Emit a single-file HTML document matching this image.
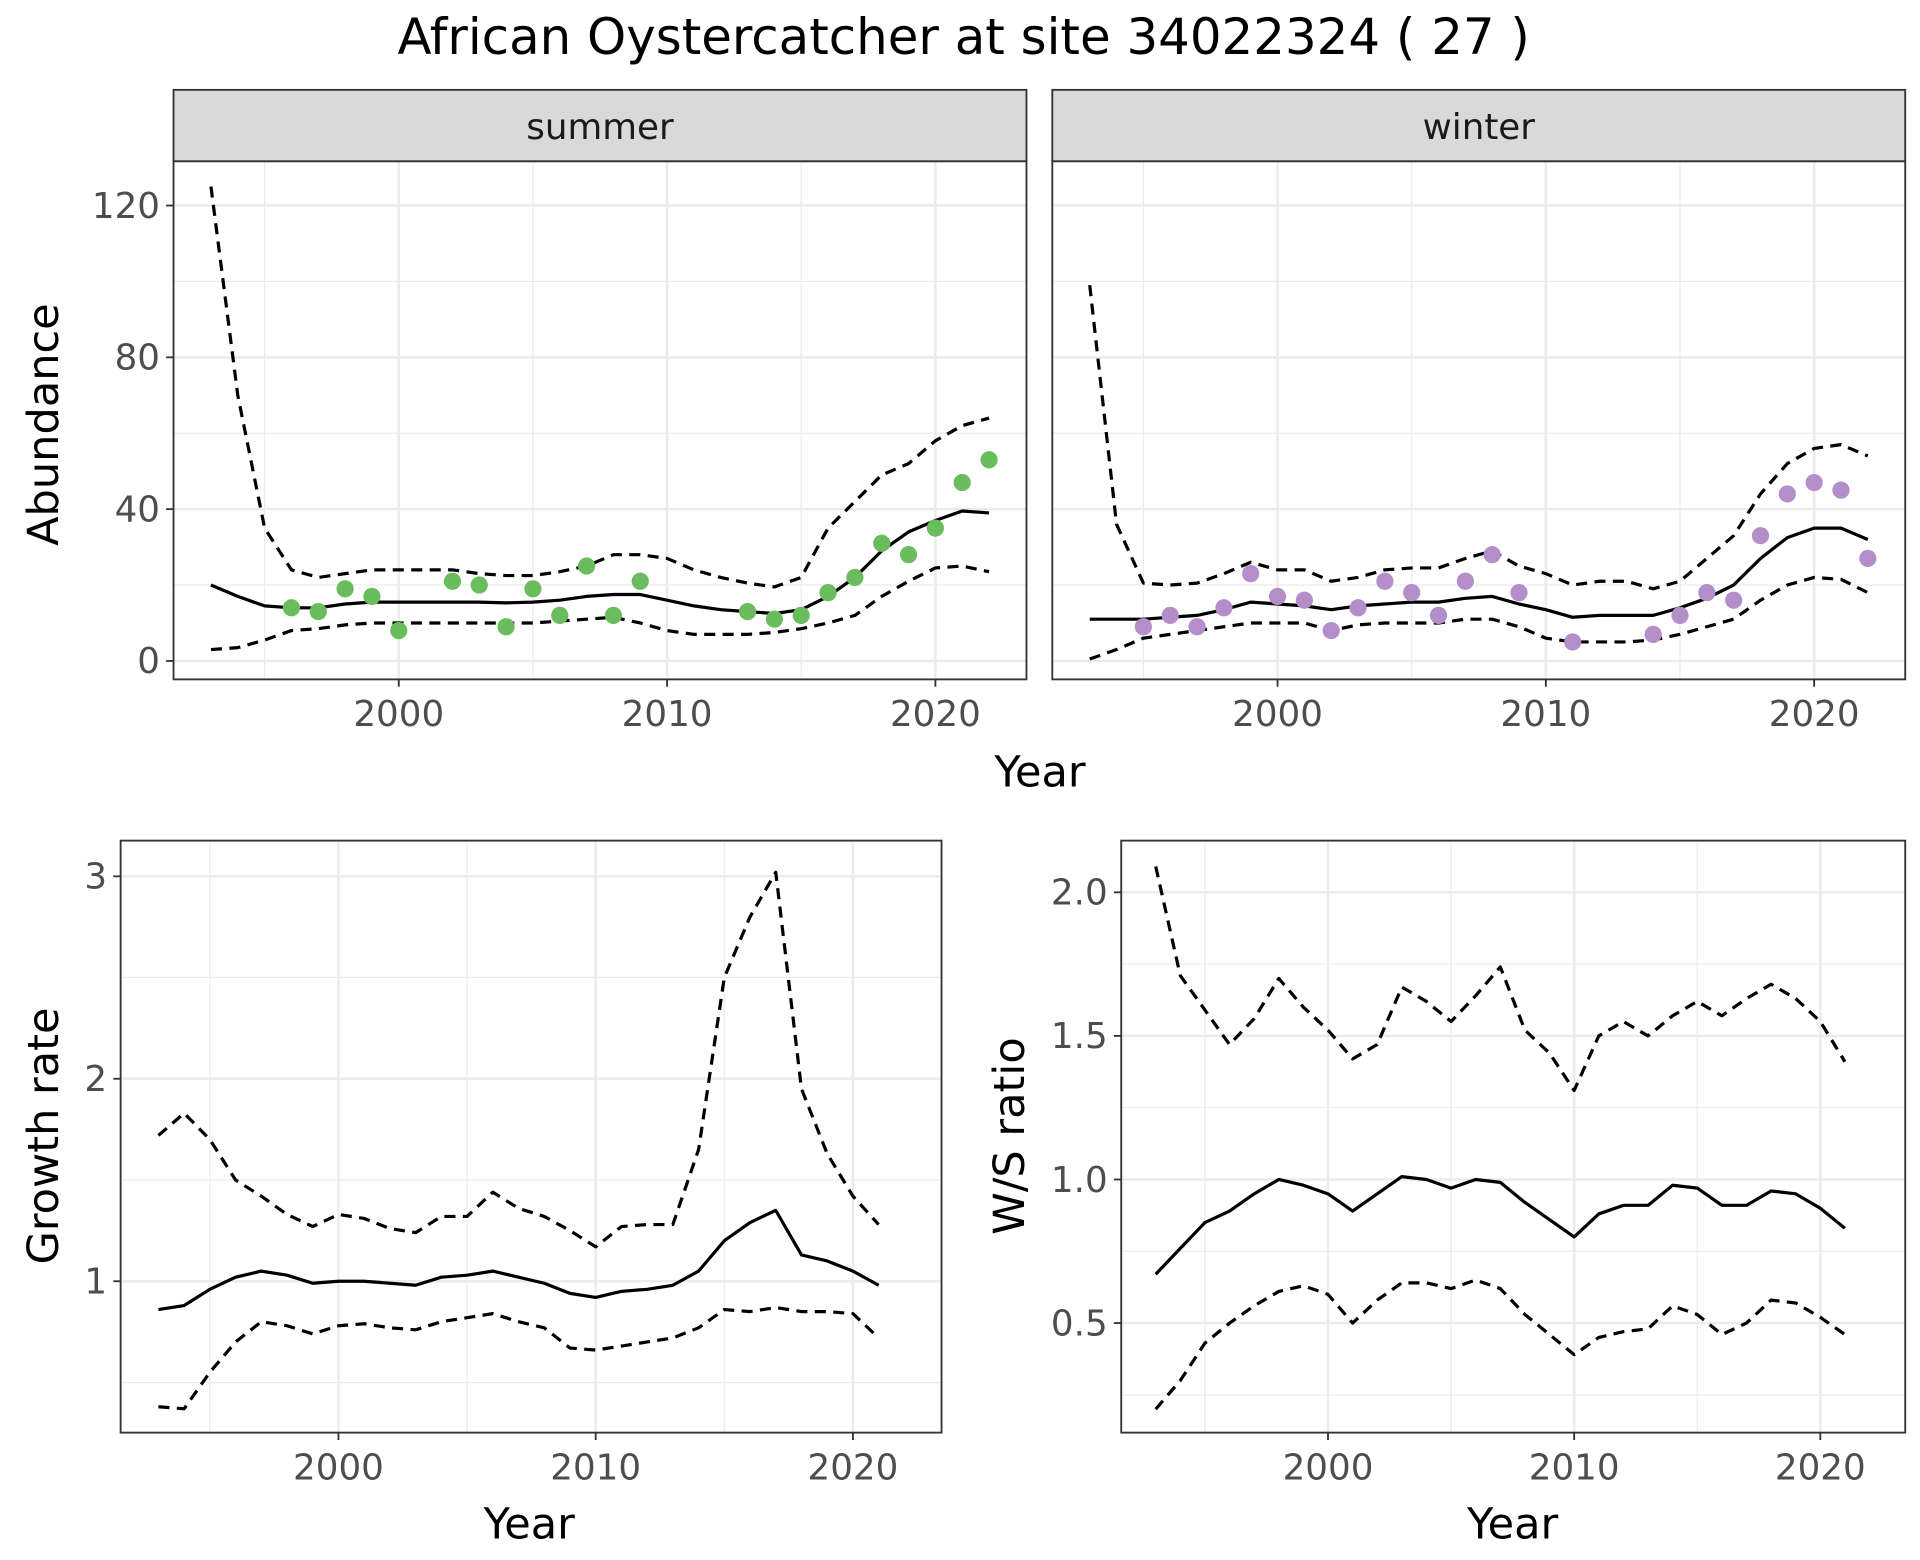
<!DOCTYPE html>
<html><head><meta charset="utf-8"><style>
html,body{margin:0;padding:0;background:#fff;}
svg{display:block;font-family:"DejaVu Sans","Liberation Sans",sans-serif;}
</style></head><body>
<svg id="chart" width="1920" height="1560" viewBox="0 0 1560 1267.5" xmlns="http://www.w3.org/2000/svg">
<text x="783" y="44" font-size="40.5" text-anchor="middle" fill="#000">African Oystercatcher at site 34022324 ( 27 )</text>
</svg>
<script>
const years = [1993,1994,1995,1996,1997,1998,1999,2000,2001,2002,2003,2004,2005,2006,2007,2008,2009,2010,2011,2012,2013,2014,2015,2016,2017,2018,2019,2020,2021,2022];
const summerMean = [20,17,14.5,14,14,15,15.5,15.5,15.5,15.5,15.5,15.3,15.5,16,17,17.5,17.5,16,14.5,13.5,13,12.5,13.5,17,22,29,34,37,39.5,39];
const summerUpper = [125,70,35,24,22,23,24,24,24,24,23,22.5,22.5,23.5,25,28,28,27,24,22,20.5,19.5,22,35,42,49,52,58,62,64];
const summerLower = [3,3.5,5.5,8,8.5,9.5,10,10,10,10,10,10,10,10.5,11,11.5,10,8,7,7,7,7.5,8.5,10,12,17,21,24.5,25,23.5];
const summerObsYears = [1996,1997,1998,1999,2000,2002,2003,2004,2005,2006,2007,2008,2009,2013,2014,2015,2016,2017,2018,2019,2020,2021,2022];
const summerObs = [14,13,19,17,8,21,20,9,19,12,25,12,21,13,11,12,18,22,31,28,35,47,53];
const winterMean = [11,11,11,11.5,12,13.5,15.5,15,14.5,13.5,14.5,15,15.5,15.5,16.5,17,15,13.5,11.5,12,12,12,14,16.5,20,27,32.5,35,35,32];
const winterUpper = [99,36,20.5,20,20.5,23,26,24,24,21,22,24,24.5,24.5,27,29,25,23,20,21,21,19,21,27,33,44,52,56,57,54];
const winterLower = [0.5,3,6,7,8,9,10,10,10,8,9.5,10,10,10,11,11,9,6,5,5,5,5.5,7,9,11,16,20,22,21.5,18];
const winterObsYears = [1995,1996,1997,1998,1999,2000,2001,2002,2003,2004,2005,2006,2007,2008,2009,2011,2014,2015,2016,2017,2018,2019,2020,2021,2022];
const winterObs = [9,12,9,14,23,17,16,8,14,21,18,12,21,28,18,5,7,12,18,16,33,44,47,45,27];
const rateYears = years.slice(0,29);
const growthMean = [0.86,0.88,0.96,1.02,1.05,1.03,0.99,1.0,1.0,0.99,0.98,1.02,1.03,1.05,1.02,0.99,0.94,0.92,0.95,0.96,0.98,1.05,1.2,1.29,1.35,1.13,1.1,1.05,0.98];
const growthUpper = [1.72,1.83,1.7,1.5,1.42,1.33,1.27,1.33,1.31,1.26,1.24,1.32,1.32,1.44,1.36,1.32,1.25,1.17,1.27,1.28,1.28,1.65,2.5,2.8,3.02,1.95,1.63,1.42,1.28];
const growthLower = [0.38,0.37,0.55,0.7,0.8,0.78,0.74,0.78,0.79,0.77,0.76,0.8,0.82,0.84,0.8,0.77,0.67,0.66,0.68,0.7,0.72,0.77,0.86,0.85,0.87,0.85,0.85,0.84,0.72];
const wsMean = [0.67,0.76,0.85,0.89,0.95,1.0,0.98,0.95,0.89,0.95,1.01,1.0,0.97,1.0,0.99,0.92,0.86,0.8,0.88,0.91,0.91,0.98,0.97,0.91,0.91,0.96,0.95,0.9,0.83];
const wsUpper = [2.09,1.71,1.59,1.47,1.56,1.7,1.6,1.52,1.42,1.47,1.67,1.62,1.55,1.64,1.74,1.52,1.44,1.31,1.5,1.55,1.5,1.57,1.62,1.57,1.63,1.68,1.63,1.55,1.41];
const wsLower = [0.2,0.3,0.43,0.5,0.56,0.61,0.63,0.6,0.5,0.58,0.64,0.64,0.62,0.65,0.62,0.53,0.46,0.39,0.45,0.47,0.48,0.56,0.53,0.46,0.5,0.58,0.57,0.52,0.46];
const xTicks = [2000,2010,2020];
const xMinor = [1995,2005,2015];
const abTicks = [0,40,80,120];
const abMinor = [20,60,100];
const grTicks = [1,2,3];
const grMinor = [0.5,1.5,2.5];
const wsTicks = [0.5,1.0,1.5,2.0];
const wsMinor = [0.25,0.75,1.25,1.75];

const NS='http://www.w3.org/2000/svg';
const svg=document.getElementById('chart');
function mk(tag,attrs,parent){const e=document.createElementNS(NS,tag);for(const k in attrs)e.setAttribute(k,attrs[k]);(parent||svg).appendChild(e);return e;}
function lin(d0,d1,r0,r1){return v=>r0+(v-d0)*(r1-r0)/(d1-d0);}

function panel(p){
  const g=mk('g',{});
  
  
  const {x0,x1,y0,y1,xs,ys}=p;
  p.xMinor.forEach(v=>{const l=mk('line',{x1:xs(v),x2:xs(v),y1:y0,y2:y1,stroke:'#ebebeb','stroke-width':1},g);});
  p.yMinor.forEach(v=>{const l=mk('line',{x1:x0,x2:x1,y1:ys(v),y2:ys(v),stroke:'#ebebeb','stroke-width':1},g);});
  p.xTicks.forEach(v=>{const l=mk('line',{x1:xs(v),x2:xs(v),y1:y0,y2:y1,stroke:'#ebebeb','stroke-width':2},g);});
  p.yTicks.forEach(v=>{const l=mk('line',{x1:x0,x2:x1,y1:ys(v),y2:ys(v),stroke:'#ebebeb','stroke-width':2},g);});
  p.lines.forEach(s=>{
    const d=s.x.map((v,i)=>(i?'L':'M')+xs(v).toFixed(2)+','+ys(s.y[i]).toFixed(2)).join('');
    const path=mk('path',{d:d,fill:'none',stroke:'#000','stroke-width':2.6,'stroke-dasharray':s.dash?'9,6':'none','stroke-linejoin':'round'},g);
    
    
  });
  if(p.points){p.points.x.forEach((v,i)=>{
    const c=mk('circle',{cx:xs(v),cy:ys(p.points.y[i]),r:7,fill:p.points.color},g);
    
    
  });}
  const b=mk('rect',{x:x0,y:y0,width:x1-x0,height:y1-y0,fill:'none',stroke:'#333','stroke-width':1.5},g);
  
  
  if(p.xLabels){p.xTicks.forEach(v=>{
    mk('line',{x1:xs(v),x2:xs(v),y1:y1,y2:y1+6,stroke:'#333','stroke-width':1.5},g);
    const t=mk('text',{x:xs(v),y:y1+38,'font-size':29,'text-anchor':'middle',fill:'#4d4d4d'},g);t.textContent=v;
    
    
  });}
  if(p.yLabels){p.yTicks.forEach(v=>{
    mk('line',{x1:x0-6,x2:x0,y1:ys(v),y2:ys(v),stroke:'#333','stroke-width':1.5},g);
    const t=mk('text',{x:x0-11,y:ys(v)+10,'font-size':29,'text-anchor':'end',fill:'#4d4d4d'},g);t.textContent=p.fmt?p.fmt(v):v;
    
    
  });}
  if(p.strip){
    const r=mk('rect',{x:x0,y:73,width:x1-x0,height:y0-73,fill:'#d9d9d9',stroke:'#333','stroke-width':1.5},g);
    
    
    const t=mk('text',{x:(x0+x1)/2,y:113,'font-size':29,'text-anchor':'middle',fill:'#1a1a1a'},g);t.textContent=p.strip;
    
    
  }
}
const abY=lin(0,120,537,167);
panel({name:'summer-panel',x0:141,x1:834,y0:131,y1:552,xs:lin(2000,2020,324,760),ys:abY,xTicks,xMinor,yTicks:abTicks,yMinor:abMinor,xLabels:true,yLabels:true,strip:'summer',
  lines:[{x:years,y:summerMean,name:'summer-mean-line'},{x:years,y:summerUpper,dash:1,name:'summer-upper-line'},{x:years,y:summerLower,dash:1,name:'summer-lower-line'}],
  points:{x:summerObsYears,y:summerObs,color:'#6abd5c'}});
panel({name:'winter-panel',x0:855,x1:1548,y0:131,y1:552,xs:lin(2000,2020,1038,1474),ys:abY,xTicks,xMinor,yTicks:abTicks,yMinor:abMinor,xLabels:true,yLabels:false,strip:'winter',
  lines:[{x:years,y:winterMean,name:'winter-mean-line'},{x:years,y:winterUpper,dash:1,name:'winter-upper-line'},{x:years,y:winterLower,dash:1,name:'winter-lower-line'}],
  points:{x:winterObsYears,y:winterObs,color:'#b48ec8'}});
panel({name:'growth-rate-panel',x0:98,x1:765,y0:683,y1:1164,xs:lin(2000,2020,275,693),ys:lin(1,3,1041,712),xTicks,xMinor,yTicks:grTicks,yMinor:grMinor,xLabels:true,yLabels:true,
  lines:[{x:rateYears,y:growthMean,name:'growth-mean-line'},{x:rateYears,y:growthUpper,dash:1,name:'growth-upper-line'},{x:rateYears,y:growthLower,dash:1,name:'growth-lower-line'}]});
panel({name:'ws-ratio-panel',x0:911,x1:1548,y0:683,y1:1164,xs:lin(2000,2020,1079,1479),ys:lin(0.5,2.0,1075,725),xTicks,xMinor,yTicks:wsTicks,yMinor:wsMinor,xLabels:true,yLabels:true,fmt:v=>v.toFixed(1),
  lines:[{x:rateYears,y:wsMean,name:'ws-mean-line'},{x:rateYears,y:wsUpper,dash:1,name:'ws-upper-line'},{x:rateYears,y:wsLower,dash:1,name:'ws-lower-line'}]});
function label(txt,x,y,rot,name){
  const t=mk('text',{x:x,y:y,'font-size':35,'text-anchor':'middle',fill:'#000',transform:rot?`rotate(-90 ${x} ${y})`:''});
  t.textContent=txt;
  
  
}
label('Year',845,639,false,'top-x-axis-title');
label('Abundance',47,345,true,'abundance-axis-title');
label('Year',430,1250,false,'growth-x-axis-title');
label('Growth rate',47,923,true,'growth-axis-title');
label('Year',1229,1250,false,'ws-x-axis-title');
label('W/S ratio',832,923,true,'ws-axis-title');
</script>
</body></html>
